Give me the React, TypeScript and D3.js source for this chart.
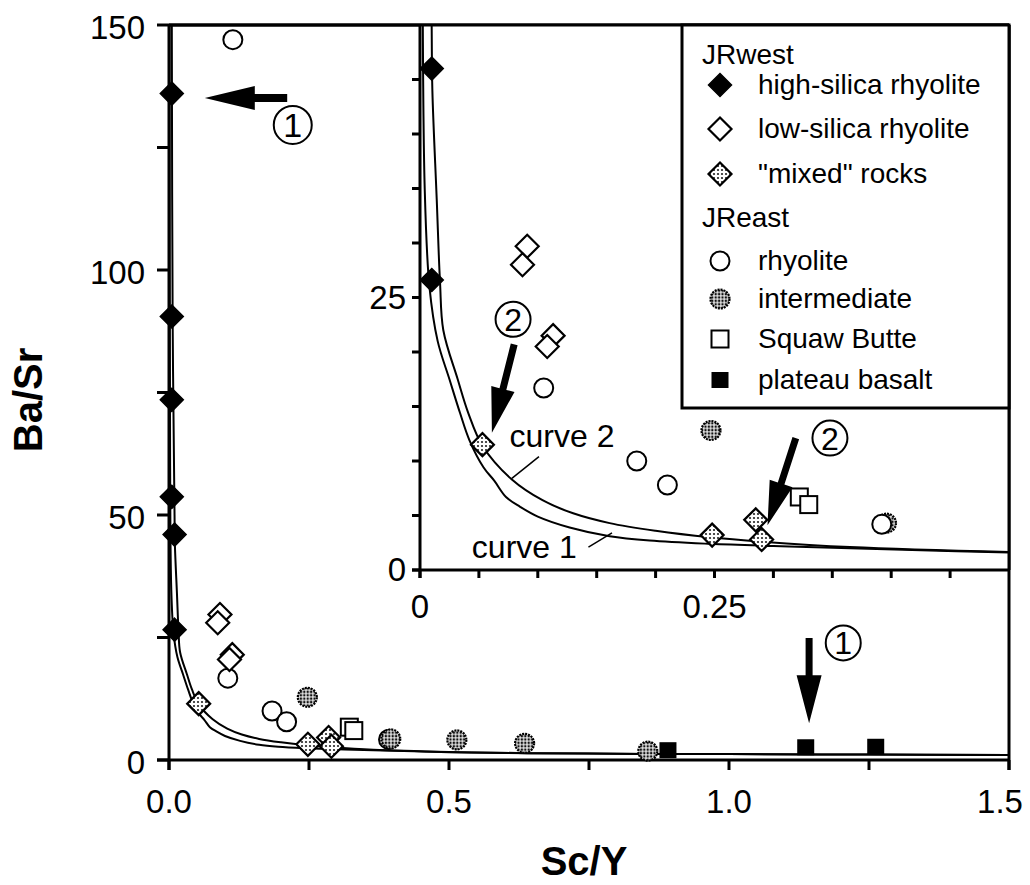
import React from 'react';
import * as d3 from 'd3';

const FONT = '"Liberation Sans", Arial, Helvetica, sans-serif';

// ---------- data (Sc/Y, Ba/Sr) ----------
const highSilicaX = [0.005, 0.005, 0.005, 0.005, 0.01, 0.01];
const highSilicaY = [136, 90.5, 73.5, 53.7, 46, 26.6];
const lowSilicaX = [0.091, 0.087, 0.113, 0.108];
const lowSilicaY = [29.7, 28.0, 21.5, 20.5];
const mixedX = [0.053, 0.248, 0.285, 0.29];
const mixedY = [11.5, 3.2, 4.6, 2.8];
const rhyoliteX = [0.114, 0.105, 0.184, 0.21, 0.392];
const rhyoliteY = [147, 16.7, 10.0, 7.8, 4.2];
const intermediateX = [0.247, 0.396, 0.514, 0.635, 0.855];
const intermediateY = [12.8, 4.3, 4.1, 3.4, 1.8];
const squawX = [0.322, 0.33];
const squawY = [6.7, 6.0];
const basaltX = [0.891, 1.137, 1.262];
const basaltY = [2.0, 2.6, 2.7];

// mixing curves
const curve2X = [0.005, 0.0065, 0.0099, 0.0105, 0.0142, 0.017, 0.0198, 0.032, 0.041, 0.053, 0.078, 0.104, 0.13, 0.161, 0.2, 0.246, 0.29, 0.365, 0.5, 0.64, 0.85, 1.0, 1.25, 1.5];
const curve2Y = [150, 90, 50, 44, 34, 26.4, 22, 17.5, 14.4, 11.4, 8.3, 6.4, 5.2, 4.3, 3.6, 3.0, 2.6, 2.1, 1.65, 1.4, 1.25, 1.2, 1.1, 1.0];
const curve1X = [0.001, 0.002, 0.004, 0.008, 0.015, 0.025, 0.034, 0.042, 0.054, 0.063, 0.073, 0.085, 0.1, 0.127, 0.161, 0.195, 0.246, 0.3, 0.365, 0.5, 0.64, 0.85, 1.0, 1.25, 1.5];
const curve1Y = [150, 60, 35, 26, 21, 17.5, 14.4, 11.9, 9.4, 8.2, 6.7, 5.8, 4.9, 3.9, 3.1, 2.7, 2.4, 2.2, 2.0, 1.6, 1.4, 1.25, 1.2, 1.1, 1.0];

// ticks
const mainXTicks = [0, 0.25, 0.5, 0.75, 1.0, 1.25, 1.5];
const mainXLabels = ['0.0', '0.5', '1.0', '1.5'];
const mainXLabelVals = [0, 0.5, 1.0, 1.5];
const mainYTicks = [0, 25, 50, 75, 100, 125, 150];
const mainYLabelVals = [0, 50, 100, 150];
const insetXTicks = [0, 0.05, 0.1, 0.15, 0.2, 0.25, 0.3, 0.35, 0.4, 0.45];
const insetXLabelVals = [0, 0.25];
const insetXLabels = ['0', '0.25'];
const insetYTicks = [0, 5, 10, 15, 20, 25, 30, 35, 40, 45];
const insetYLabelVals = [0, 25];

// legend
const legendHeaders = ['JRwest', 'JReast'];
const legendLabels = ['high-silica rhyolite', 'low-silica rhyolite', '"mixed" rocks', 'rhyolite', 'intermediate', 'Squaw Butte', 'plateau basalt'];
const legendTypes = ['fdiamond', 'odiamond', 'pdiamond', 'ocircle', 'pcircle', 'osquare', 'fsquare'];

type Series = { type: string; xs: number[]; ys: number[] };
const seriesMain: Series[] = [
  { type: 'osquare', xs: squawX, ys: squawY },
  { type: 'fsquare', xs: basaltX, ys: basaltY },
  { type: 'ocircle', xs: rhyoliteX, ys: rhyoliteY },
  { type: 'pcircle', xs: intermediateX, ys: intermediateY },
  { type: 'odiamond', xs: lowSilicaX, ys: lowSilicaY },
  { type: 'pdiamond', xs: mixedX, ys: mixedY },
  { type: 'fdiamond', xs: highSilicaX, ys: highSilicaY },
];
const seriesInset: Series[] = [
  { type: 'osquare', xs: squawX, ys: squawY },
  { type: 'fsquare', xs: basaltX, ys: basaltY },
  { type: 'pcircle', xs: intermediateX, ys: intermediateY },
  { type: 'ocircle', xs: rhyoliteX, ys: rhyoliteY },
  { type: 'odiamond', xs: lowSilicaX, ys: lowSilicaY },
  { type: 'pdiamond', xs: mixedX, ys: mixedY },
  { type: 'fdiamond', xs: highSilicaX, ys: highSilicaY },
];

function Marker({ type, x, y }: { type: string; x: number; y: number }) {
  const r = 11.5;
  const dia = `M${x},${y - r}L${x + r},${y}L${x},${y + r}L${x - r},${y}Z`;
  switch (type) {
    case 'fdiamond':
      return <path d={dia} fill="#000" stroke="#000" strokeWidth={1.5} />;
    case 'odiamond':
      return <path d={dia} fill="#fff" stroke="#000" strokeWidth={2.2} />;
    case 'pdiamond':
      return <path d={dia} fill="url(#stipA)" stroke="#000" strokeWidth={2.2} />;
    case 'ocircle':
      return <circle cx={x} cy={y} r={9.5} fill="#fff" stroke="#000" strokeWidth={2} />;
    case 'pcircle':
      return <circle cx={x} cy={y} r={9.5} fill="url(#stipB)" stroke="#000" strokeWidth={2.2} strokeDasharray="2 1" />;
    case 'osquare':
      return <rect x={x - 8.5} y={y - 8.5} width={17} height={17} fill="#fff" stroke="#000" strokeWidth={2} />;
    case 'fsquare':
      return <rect x={x - 8.5} y={y - 8} width={17} height={16} fill="#000" />;
  }
  return null;
}

function arrowPoly(x1: number, y1: number, x2: number, y2: number, shaftW: number, headL: number, headW: number) {
  const dx = x2 - x1, dy = y2 - y1;
  const L = Math.hypot(dx, dy);
  const ux = dx / L, uy = dy / L;
  const px = -uy, py = ux;
  const bx = x2 - ux * headL, by = y2 - uy * headL;
  const pts = [
    [x1 + px * shaftW / 2, y1 + py * shaftW / 2],
    [bx + px * shaftW / 2, by + py * shaftW / 2],
    [bx + px * headW, by + py * headW],
    [x2, y2],
    [bx - px * headW, by - py * headW],
    [bx - px * shaftW / 2, by - py * shaftW / 2],
    [x1 - px * shaftW / 2, y1 - py * shaftW / 2],
  ];
  return pts.map(p => p[0].toFixed(1) + ',' + p[1].toFixed(1)).join(' ');
}

function CircNum({ x, y, r, n, fs }: { x: number; y: number; r: number; n: string; fs: number }) {
  return (
    <g>
      <circle cx={x} cy={y} r={r} fill="#fff" stroke="#000" strokeWidth={2} />
      <text x={x} y={y + fs * 0.36} textAnchor="middle" fontSize={fs} fontFamily={FONT}>{n}</text>
    </g>
  );
}

export default function App() {
  const mx = d3.scaleLinear().domain([0, 1.5]).range([169, 1009]);
  const my = d3.scaleLinear().domain([0, 150]).range([760, 25]);
  const ix = d3.scaleLinear().domain([0, 0.5]).range([420, 1009]);
  const iy = d3.scaleLinear().domain([0, 50]).range([570, 25]);

  const mkPath = (xs: number[], ys: number[], sx: any, sy: any) => {
    const pts = xs.map((x, i) => [x, ys[i]] as [number, number]);
    return d3.line<[number, number]>().x(d => sx(d[0])).y(d => sy(d[1])).curve(d3.curveCatmullRom.alpha(0.5))(pts) || '';
  };

  const tickFont = 33;

  // annotation anchors in data units
  const a1 = { tail: [0.211, 135.1], tip: [0.064, 135.1], circ: [0.221, 129.6] };
  const a1b = { tail: [1.143, 24.9], tip: [1.143, 7.5], circ: [1.204, 23.9] };
  const a2 = { tail: [0.080, 20.7], tip: [0.061, 12.6], circ: [0.079, 23.0] };
  const a2b = { tail: [0.319, 12.1], tip: [0.295, 4.1], circ: [0.348, 12.1] };

  return (
    <svg width={1030} height={885} style={{ position: 'absolute', left: 0, top: 0, background: '#fff' }}>
      <defs>
        <pattern id="stipA" width={4} height={4} patternUnits="userSpaceOnUse">
          <rect width={4} height={4} fill="#fff" />
          <circle cx={2} cy={2} r={1.1} fill="#222" />
        </pattern>
        <pattern id="stipB" width={3.4} height={3.4} patternUnits="userSpaceOnUse">
          <rect width={3.4} height={3.4} fill="#ddd" />
          <circle cx={1.7} cy={1.7} r={1.2} fill="#111" />
        </pattern>
        <clipPath id="clipMain"><rect x={169} y={25} width={840} height={735} /></clipPath>
        <clipPath id="clipInset"><rect x={420} y={25} width={589} height={545} /></clipPath>
      </defs>
      <rect x={0} y={0} width={1030} height={885} fill="#fff" />

      {/* main curves */}
      <g clipPath="url(#clipMain)" fill="none" stroke="#000" strokeWidth={2}>
        <path d={mkPath(curve1X, curve1Y, mx, my)} />
        <path d={mkPath(curve2X, curve2Y, mx, my)} />
      </g>

      {/* main axes */}
      <g stroke="#000" strokeWidth={3} fill="none">
        <line x1={169} y1={25} x2={169} y2={770} />
        <line x1={157} y1={760} x2={1009} y2={760} />
        <line x1={169} y1={25} x2={1009} y2={25} />
        <line x1={1009} y1={25} x2={1009} y2={770} />
        {mainYTicks.map(t => <line key={'my' + t} x1={157} x2={169} y1={my(t)} y2={my(t)} />)}
        {mainXTicks.map(t => <line key={'mx' + t} x1={mx(t)} x2={mx(t)} y1={760} y2={770} />)}
      </g>
      <g fontFamily={FONT} fontSize={tickFont} fill="#000">
        {mainYLabelVals.map(v => (
          <text key={'myl' + v} x={145} y={my(v) + 14} textAnchor="end">{v}</text>
        ))}
        {mainXLabelVals.map((v, i) => (
          <text key={'mxl' + v} x={Math.min(mx(v), 1000)} y={813} textAnchor="middle">{mainXLabels[i]}</text>
        ))}
      </g>
      <text x={584} y={875} textAnchor="middle" fontFamily={FONT} fontWeight="bold" fontSize={40}>Sc/Y</text>
      <text transform="translate(42,400) rotate(-90)" textAnchor="middle" fontFamily={FONT} fontWeight="bold" fontSize={40}>Ba/Sr</text>

      {/* main markers */}
      {seriesMain.map((s, si) => (
        <g key={'sm' + si}>
          {s.xs.map((x, i) => <Marker key={i} type={s.type} x={mx(x)} y={my(s.ys[i])} />)}
        </g>
      ))}

      {/* main annotations */}
      <polygon points={arrowPoly(mx(a1.tail[0]), my(a1.tail[1]), mx(a1.tip[0]), my(a1.tip[1]), 8, 50, 12)} fill="#000" />
      <CircNum x={mx(a1.circ[0])} y={my(a1.circ[1])} r={19} n="1" fs={34} />
      <polygon points={arrowPoly(mx(a1b.tail[0]), my(a1b.tail[1]), mx(a1b.tip[0]), my(a1b.tip[1]), 7, 48, 12.5)} fill="#000" />
      <CircNum x={mx(a1b.circ[0])} y={my(a1b.circ[1])} r={17.5} n="1" fs={32} />

      {/* inset */}
      <rect x={420} y={25} width={589} height={545} fill="#fff" />
      <g clipPath="url(#clipInset)" fill="none" stroke="#000" strokeWidth={2}>
        <path d={mkPath(curve1X, curve1Y, ix, iy)} />
        <path d={mkPath(curve2X, curve2Y, ix, iy)} />
      </g>
      <g stroke="#000" strokeWidth={3} fill="none">
        <line x1={420} y1={25} x2={420} y2={578} />
        <line x1={412} y1={570} x2={1009} y2={570} />
        <line x1={169} y1={25} x2={1009} y2={25} />
        <line x1={1009} y1={25} x2={1009} y2={570} />
        {insetYTicks.map(t => <line key={'iy' + t} x1={412} x2={420} y1={iy(t)} y2={iy(t)} />)}
        {insetXTicks.map(t => <line key={'ix' + t} x1={ix(t)} x2={ix(t)} y1={570} y2={578} />)}
      </g>
      <g fontFamily={FONT} fontSize={tickFont} fill="#000">
        {insetYLabelVals.map(v => (
          <text key={'iyl' + v} x={406} y={iy(v) + 11} textAnchor="end">{v}</text>
        ))}
        {insetXLabelVals.map((v, i) => (
          <text key={'ixl' + v} x={ix(v)} y={618} textAnchor="middle">{insetXLabels[i]}</text>
        ))}
      </g>
      {seriesInset.map((s, si) => (
        <g key={'si' + si}>
          {s.xs.map((x, i) =>
            x <= 0.5 && s.ys[i] <= 50 ? <Marker key={i} type={s.type} x={ix(x)} y={iy(s.ys[i])} /> : null
          )}
        </g>
      ))}

      {/* curve labels */}
      <g fontFamily={FONT} fontSize={32} fill="#000">
        <text x={ix(0.076)} y={iy(11.3)}>curve 2</text>
        <text x={ix(0.044)} y={iy(1.1)}>curve 1</text>
      </g>
      <g stroke="#000" strokeWidth={1.5}>
        <line x1={ix(0.078)} y1={iy(8.4)} x2={ix(0.101)} y2={iy(10.4)} />
        <line x1={ix(0.143)} y1={iy(2.1)} x2={ix(0.163)} y2={iy(3.4)} />
      </g>

      {/* inset annotations */}
      <polygon points={arrowPoly(ix(a2.tail[0]), iy(a2.tail[1]), ix(a2.tip[0]), iy(a2.tip[1]), 7, 45, 12)} fill="#000" />
      <CircNum x={ix(a2.circ[0])} y={iy(a2.circ[1])} r={17.5} n="2" fs={32} />
      <polygon points={arrowPoly(ix(a2b.tail[0]), iy(a2b.tail[1]), ix(a2b.tip[0]), iy(a2b.tip[1]), 7, 44, 12)} fill="#000" />
      <CircNum x={ix(a2b.circ[0])} y={iy(a2b.circ[1])} r={17.5} n="2" fs={32} />

      {/* legend */}
      <rect x={682} y={25} width={327} height={383} fill="#fff" stroke="#000" strokeWidth={3} />
      <g fontFamily={FONT} fontSize={28} fill="#000">
        <text x={702} y={64}>{legendHeaders[0]}</text>
        <text x={702} y={227}>{legendHeaders[1]}</text>
        {legendLabels.map((lab, i) => {
          const base = [94, 138, 183, 270, 308, 348, 389][i];
          return (
            <g key={'lg' + i}>
              <Marker type={legendTypes[i]} x={720} y={base - 9} />
              <text x={758} y={base}>{lab}</text>
            </g>
          );
        })}
      </g>
    </svg>
  );
}
